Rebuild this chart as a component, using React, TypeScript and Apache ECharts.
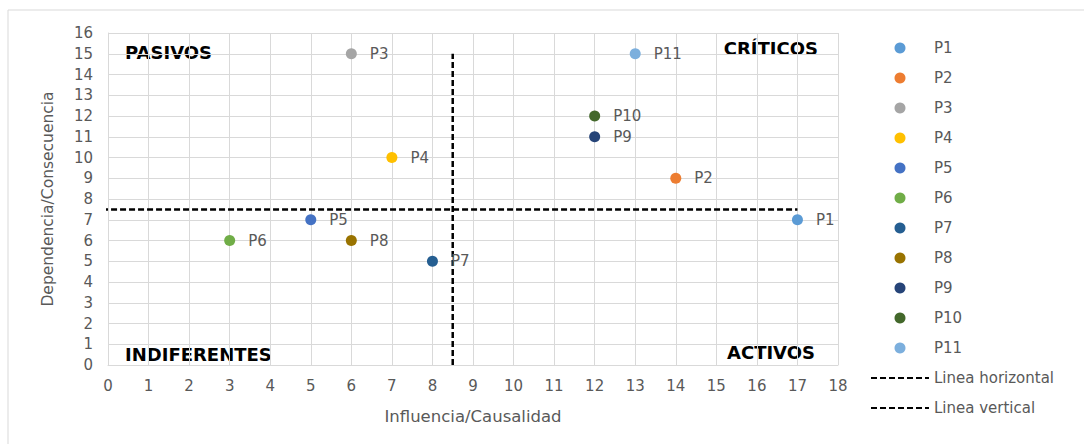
import React, { useEffect, useRef } from "react";
import * as echarts from "echarts";

const pointNames = ["P1", "P2", "P3", "P4", "P5", "P6", "P7", "P8", "P9", "P10", "P11"];
const influence = [17, 14, 6, 7, 5, 3, 8, 6, 12, 12, 13];
const dependence = [7, 9, 15, 10, 7, 6, 5, 6, 11, 12, 15];
const pointColors = ["#5B9BD5", "#ED7D31", "#A5A5A5", "#FFC000", "#4472C4", "#70AD47", "#255E91", "#997300", "#264478", "#43682B", "#7CAFDD"];
const horizontalLine = [[-1.7, 7.5], [17, 7.5]];
const verticalLine = [[8.5, 0], [8.5, 15]];
const lineNames = ["Linea horizontal", "Linea vertical"];
const quadrantLabels = ["PASIVOS", "CRÍTICOS", "INDIFERENTES", "ACTIVOS"];

const FONT = "DejaVu Sans";
const GRAY = "#595959";

export default function App() {
  const ref = useRef<HTMLDivElement>(null);
  useEffect(() => {
    const chart = echarts.init(ref.current!, null, { renderer: "svg" });
    const scatterSeries = pointNames.map((name, i) => ({
      name,
      type: "scatter",
      symbol: "circle",
      symbolSize: 11,
      itemStyle: { color: pointColors[i], opacity: 1 },
      data: [[influence[i], dependence[i]]],
      label: {
        show: true,
        position: "right",
        distance: 13,
        formatter: name,
        color: GRAY,
        fontSize: 15,
        fontFamily: FONT,
      },
      z: 5,
    }));
    const lineSeries = [
      { name: lineNames[0], data: horizontalLine },
      { name: lineNames[1], data: verticalLine },
    ].map((s) => ({
      name: s.name,
      type: "line",
      data: s.data,
      symbol: "none",
      clip: false,
      itemStyle: { color: "rgba(0,0,0,0)" },
      lineStyle: { color: "#000000", width: 2.5, type: [6, 3] },
      z: 3,
    }));
    const bold = `bold 18px "${FONT}"`;
    chart.setOption({
      animation: false,
      grid: { left: 108, right: 246, top: 33, bottom: 79 },
      xAxis: {
        type: "value",
        min: 0,
        max: 18,
        interval: 1,
        name: "Influencia/Causalidad",
        nameLocation: "middle",
        nameGap: 43,
        nameTextStyle: { color: GRAY, fontSize: 16.5, fontFamily: FONT },
        axisLine: { show: true, lineStyle: { color: "#D9D9D9" } },
        axisTick: { show: false },
        axisLabel: { color: GRAY, fontSize: 15, fontFamily: FONT, margin: 13 },
        splitLine: { show: true, lineStyle: { color: "#D9D9D9", width: 1 } },
      },
      yAxis: {
        type: "value",
        min: 0,
        max: 16,
        interval: 1,
        name: "Dependencia/Consecuencia",
        nameLocation: "middle",
        nameGap: 52,
        nameTextStyle: { color: GRAY, fontSize: 15.5, fontFamily: FONT },
        axisLine: { show: true, lineStyle: { color: "#D9D9D9" } },
        axisTick: { show: false },
        axisLabel: { color: GRAY, fontSize: 15, fontFamily: FONT, margin: 15 },
        splitLine: { show: true, lineStyle: { color: "#D9D9D9", width: 1 } },
      },
      legend: {
        orient: "vertical",
        left: 870,
        top: 40,
        padding: 0,
        itemWidth: 58,
        itemHeight: 11,
        itemGap: 14,
        itemStyle: { borderWidth: 0 },
        textStyle: { color: GRAY, fontSize: 15, fontFamily: FONT, lineHeight: 16 },
        data: [...pointNames.map((n) => ({ name: n, icon: "circle" })), ...lineNames],
      },
      graphic: [
        {
          type: "rect",
          shape: { x: 8, y: 10, width: 1090, height: 450 },
          style: { fill: "none", stroke: "#D9D9D9", lineWidth: 1 },
          silent: true,
        },
        { type: "text", x: 125, y: 52, style: { text: quadrantLabels[0], font: bold, fill: "#000", textVerticalAlign: "middle" } },
        { type: "text", x: 818, y: 48, style: { text: quadrantLabels[1], font: bold, fill: "#000", textAlign: "right", textVerticalAlign: "middle" } },
        { type: "text", x: 125, y: 354, style: { text: quadrantLabels[2], font: bold, fill: "#000", textVerticalAlign: "middle" } },
        { type: "text", x: 815, y: 352, style: { text: quadrantLabels[3], font: bold, fill: "#000", textAlign: "right", textVerticalAlign: "middle" } },
      ],
      series: [...scatterSeries, ...lineSeries],
    });
    return () => chart.dispose();
  }, []);
  return (
    <div
      ref={ref}
      style={{ position: "fixed", left: 0, top: 0, width: 1084, height: 444, background: "#fff" }}
    />
  );
}
